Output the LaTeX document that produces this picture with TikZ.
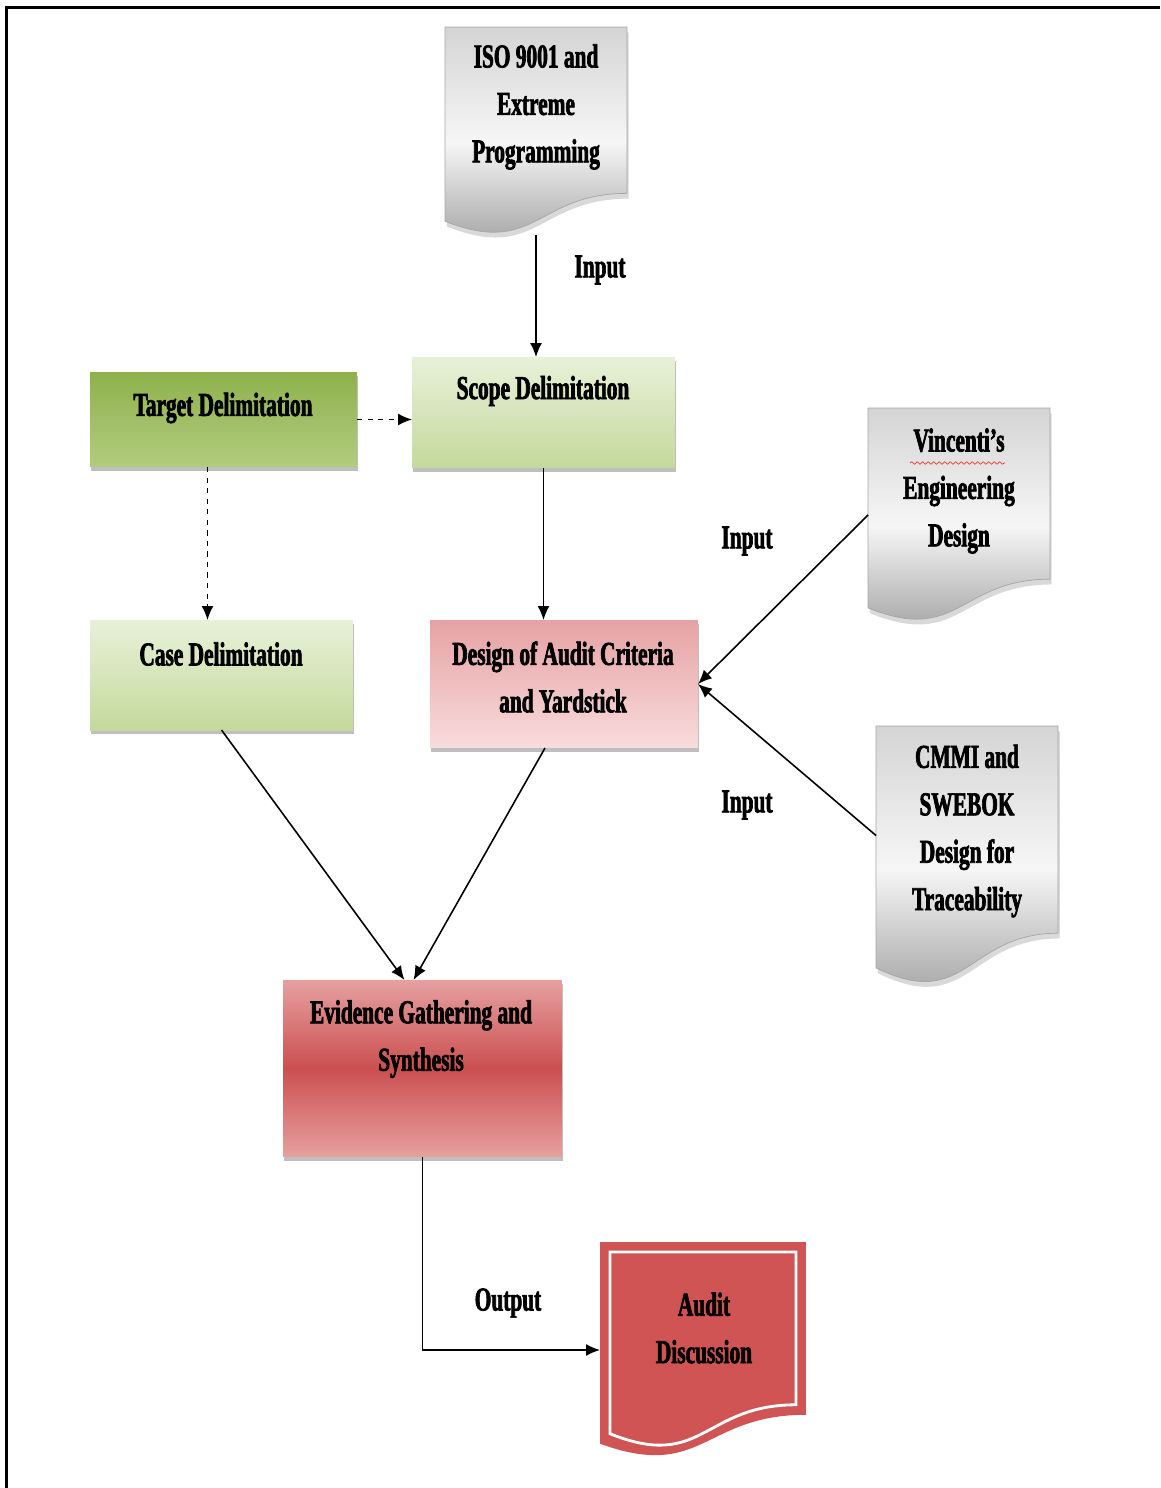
\documentclass[tikz,border=0pt]{standalone}
\usepackage{fontspec}
\newfontfamily\diafont{Liberation Serif Bold}[FakeStretch=0.64, FakeBold=2]
\usepackage{xcolor}
\usepackage{tikz}
\usetikzlibrary{arrows.meta,calc,shadows,backgrounds,decorations.pathmorphing}

\definecolor{tgttop}{HTML}{8FB14C}
\definecolor{tgtbot}{HTML}{B2CC7E}
\definecolor{lgtop}{HTML}{E8F1D8}
\definecolor{lgbot}{HTML}{C4D99C}
\definecolor{pinktop}{HTML}{E6A2A4}
\definecolor{pinkbot}{HTML}{F8DCDC}
\definecolor{redlight}{HTML}{E6A0A0}
\definecolor{redmid}{HTML}{CB5050}
\definecolor{auditred}{HTML}{D05454}
\definecolor{doctop}{HTML}{D4D4D4}
\definecolor{docmid}{HTML}{F6F6F6}
\definecolor{docbot}{HTML}{9A9A9A}

% document shape with a wavy bottom, drawn round a named node
\newcommand{\docpath}[3]{%
  \path[#3] ($(#1.north west)+(#2,#2)$) -- ($(#1.north east)+(-#2,#2)$)
    -- ($(#1.north east)!0.8!(#1.south east)+(-#2,-#2)$)
    .. controls ($(#1.north)!0.8!(#1.south)+(0,-#2)$) and ($(#1.north)!1.107!(#1.south)+(0,-#2)$)
    .. ($(#1.north west)!0.934!(#1.south west)+(#2,-#2)$) -- cycle;}

\begin{document}
\begin{tikzpicture}[x=0.02cm, y=-0.02cm,
  every node/.style={font=\fontsize{19}{27}\selectfont\diafont, align=center, inner sep=0pt, outer sep=0pt},
  box/.style={rectangle, drop shadow={shadow xshift=0.8pt, shadow yshift=-2.2pt, opacity=0.5}},
  doc/.style={rectangle, minimum width=3.64cm},
  docfill/.style={draw=gray!70, top color=doctop, bottom color=docbot, middle color=docmid,
    drop shadow={shadow xshift=1pt, shadow yshift=-3pt, opacity=0.3}},
  arr/.style={line width=0.9pt, -{Latex[length=2.8mm, width=2.4mm]}},
  dasharr/.style={arr, dashed}]
  \useasboundingbox (0,0) rectangle (1160,1488);
  \draw[line width=0.06cm] (6.5,1488) -- (6.5,7) -- (1160,7);

  % boxes
  \node[box, top color=tgttop, bottom color=tgtbot, minimum width=5.34cm, minimum height=1.9cm] (target) at (223.5,419.5) {};
  \node[box, top color=lgtop, bottom color=lgbot, minimum width=5.26cm, minimum height=2.22cm] (scope) at (543.5,412.5) {};
  \node[box, top color=lgtop, bottom color=lgbot, minimum width=5.26cm, minimum height=2.2cm] (case) at (221.5,675) {};
  \node[box, top color=pinktop, bottom color=pinkbot, minimum width=5.36cm, minimum height=2.56cm] (design) at (564,684) {};
  \node[box, top color=redlight, bottom color=redlight, middle color=redmid, minimum width=5.58cm, minimum height=3.54cm] (evid) at (422.5,1068.5) {};

  \node (targettxt) at (223,408) {Target Delimitation};
  \node (scopetxt) at (543,391) {Scope Delimitation};
  \node (casetxt) at (221,654) {Case Delimitation};
  \node (designtxt) at (563,677) {Design of Audit Criteria\\and Yardstick};
  \node (evidtxt) at (421,1039) {Evidence Gathering and\\Synthesis};

  % documents
  \node[doc, minimum height=4.16cm] (iso) at (536,131) {};
  \node[doc, minimum height=4.28cm] (vinc) at (959,515) {};
  \node[doc, minimum height=5.18cm] (cmmi) at (967,855.5) {};
  \node[rectangle, minimum width=4.12cm, minimum height=4.32cm] (audit) at (703,1350) {};
  \begin{pgfonlayer}{background}
    \docpath{iso}{0}{docfill}
    \docpath{vinc}{0}{docfill}
    \docpath{cmmi}{0}{docfill}
    \docpath{audit}{0}{fill=auditred}
    \docpath{audit}{10}{draw=white, line width=1.6pt}
  \end{pgfonlayer}

  \node (isotxt) at (536,107) {ISO 9001 and\\Extreme\\Programming};
  \node (vinctxt) at (959,491) {Vincenti’s\\Engineering\\Design};
  \draw[red!80, decorate, decoration={snake, amplitude=0.25mm, segment length=1.1mm}] (910,463) -- (1005,463);
  \node (cmmitxt) at (967,831) {CMMI and\\SWEBOK\\Design for\\Traceability};
  \node (audittxt) at (704,1328) {Audit\\Discussion};

  % labels
  \node (in1) at (600,270) {Input};
  \node (in2) at (747,541) {Input};
  \node (in3) at (747,805) {Input};
  \node (out) at (508,1303) {Output};

  % connectors
  \coordinate (tgtdrop) at ($(target.south)+(-16,0)$);
  \coordinate (cmmiout) at ($(cmmi.west)+(0,-20)$);
  \coordinate (designout) at ($(design.south)+(-19,0)$);
  \coordinate (evidinl) at ($(evid.north)+(-18,0)$);
  \coordinate (evidinr) at ($(evid.north)+(-9,0)$);

  \draw[arr] (iso.south) -- (iso.south |- scope.north);
  \draw[dasharr] (target.east) -- (target.east -| scope.west);
  \draw[dasharr] (tgtdrop) -- (tgtdrop |- case.north);
  \draw[arr] (scope.south) -- (scope.south |- design.north);
  \draw[arr] (vinc.west) -- (design.east);
  \draw[arr] (cmmiout) -- (design.east);
  \draw[arr] (case.south) -- (evidinl);
  \draw[arr] (designout) -- (evidinr);
  \draw[arr] (evid.south) |- (audit.west);
\end{tikzpicture}
\end{document}
